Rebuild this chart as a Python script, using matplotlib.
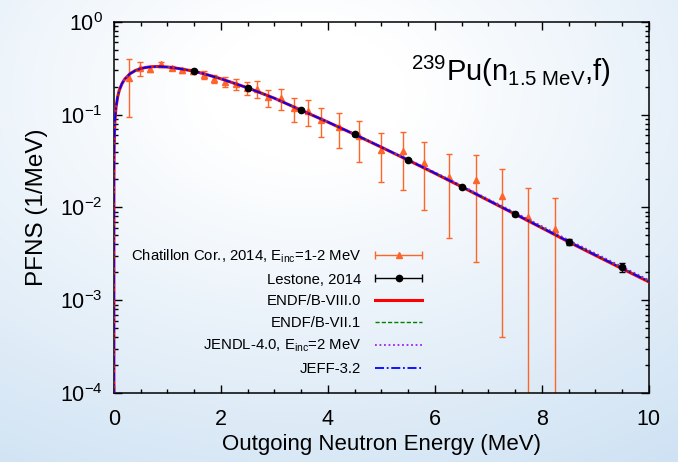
import numpy as np
import matplotlib
matplotlib.use('Agg')
import matplotlib.pyplot as plt
from matplotlib.lines import Line2D
from matplotlib.collections import LineCollection
from matplotlib.container import ErrorbarContainer
from matplotlib.legend_handler import HandlerErrorbar
from matplotlib.ticker import MultipleLocator, LogLocator, NullFormatter

plt.rcParams['font.family'] = ['Liberation Sans', 'DejaVu Sans']
plt.rcParams['mathtext.fontset'] = 'custom'
plt.rcParams['mathtext.rm'] = 'Liberation Sans'
plt.rcParams['mathtext.it'] = 'Liberation Sans:italic'
plt.rcParams['mathtext.default'] = 'regular'

# Chatillon corrected data, E_inc = 1-2 MeV
chat_e = [0.28, 0.48, 0.68, 0.88, 1.08, 1.28, 1.48, 1.68, 1.88, 2.08, 2.28, 2.48,
          2.68, 2.88, 3.12, 3.37, 3.62, 3.87, 4.20, 4.59, 4.99, 5.40, 5.79, 6.26,
          6.76, 7.26, 7.75, 8.25]
chat_y = [0.245, 0.3145, 0.309, 0.3465, 0.3165, 0.2995, 0.2925, 0.269, 0.2445,
          0.2265, 0.2125, 0.1935, 0.190, 0.1535, 0.150, 0.117, 0.109, 0.0879,
          0.0741, 0.0582, 0.0413, 0.0403, 0.0299, 0.0211, 0.0196, 0.0132,
          0.0078, 0.00584]
chat_err = [0.150, 0.0515, 0.023, 0.0175, 0.0155, 0.0185, 0.0205, 0.027, 0.0255,
            0.0275, 0.0295, 0.0315, 0.039, 0.0325, 0.038, 0.034, 0.034, 0.0312,
            0.0299, 0.0275, 0.0223, 0.0247, 0.0206, 0.0164, 0.0170, 0.0128,
            0.0083, 0.0069]

# Lestone 2014
les_e = [1.5, 2.5, 3.5, 4.5, 5.5, 6.5, 7.5, 8.5, 9.5]
les_y = [0.293, 0.194, 0.1115, 0.0611, 0.0323, 0.0167, 0.00847, 0.00426, 0.00226]
les_err = [0.006, 0.005, 0.003, 0.0017, 0.0009, 0.0005, 0.0003, 0.00029, 0.00026]

# evaluated spectra
eval_e = [1e-8, 1e-6, 1e-4, 0.001, 0.005, 0.01, 0.02, 0.04, 0.07, 0.1, 0.15, 0.2,
          0.3, 0.4, 0.5, 0.6, 0.7, 0.8, 0.9, 1.0, 1.2, 1.5, 1.75, 2.0, 2.5, 3.0,
          3.5, 4.0, 4.5, 5.0, 5.5, 6.0, 6.5, 7.0, 7.5, 8.0, 8.5, 9.0, 9.5, 10.0]
endf8 = [6e-5, 6e-4, 6e-3, 0.020, 0.045, 0.063, 0.088, 0.120, 0.155, 0.182, 0.215,
         0.240, 0.275, 0.298, 0.313, 0.322, 0.327, 0.329, 0.328, 0.325, 0.314,
         0.293, 0.268, 0.243, 0.194, 0.150, 0.1115, 0.0830, 0.0611, 0.0445,
         0.0323, 0.0233, 0.0167, 0.0119, 0.00847, 0.00602, 0.00426, 0.00305,
         0.00219, 0.00158]
endf71 = [6e-5, 6e-4, 6e-3, 0.020, 0.045, 0.063, 0.088, 0.120, 0.155, 0.182, 0.215,
          0.240, 0.275, 0.298, 0.313, 0.322, 0.327, 0.329, 0.328, 0.325, 0.314,
          0.293, 0.268, 0.243, 0.194, 0.150, 0.1117, 0.0832, 0.0613, 0.0447,
          0.0325, 0.0235, 0.0169, 0.0120, 0.00858, 0.00611, 0.00433, 0.00311,
          0.00224, 0.00161]
jendl = [6e-5, 6e-4, 6e-3, 0.020, 0.045, 0.063, 0.088, 0.120, 0.155, 0.182, 0.215,
         0.240, 0.275, 0.298, 0.313, 0.322, 0.327, 0.329, 0.328, 0.325, 0.314,
         0.293, 0.268, 0.243, 0.194, 0.150, 0.1120, 0.0836, 0.0617, 0.0451,
         0.0329, 0.0239, 0.0172, 0.0123, 0.00880, 0.00628, 0.00445, 0.00320,
         0.00230, 0.00165]
jeff = [6e-5, 6e-4, 6e-3, 0.020, 0.045, 0.063, 0.088, 0.120, 0.155, 0.182, 0.215,
        0.240, 0.275, 0.298, 0.313, 0.322, 0.327, 0.329, 0.328, 0.325, 0.314,
        0.293, 0.268, 0.243, 0.194, 0.150, 0.1115, 0.0831, 0.0612, 0.0446,
        0.0324, 0.0234, 0.0168, 0.0119, 0.00850, 0.00604, 0.00428, 0.00307,
        0.00221, 0.00159]

orange = '#ff6428'

fig = plt.figure(figsize=(6.78, 4.62), dpi=100)

# soft white-to-blue backdrop
bg = fig.add_axes([0, 0, 1, 1], zorder=-10)
gx, gy = np.meshgrid(np.linspace(0, 1, 340), np.linspace(1, 0, 232))
d = np.sqrt((gx - 0.45) ** 2 + (gy - 0.8) ** 2)
t = np.clip((d - 0.15) / 0.85, 0, 1)[..., None]
edge = np.array([205, 225, 243]) / 255.0
bg.imshow((1 - t) * 1.0 + t * edge, aspect='auto', extent=[0, 1, 0, 1],
          interpolation='bilinear')
bg.axis('off')

ax = fig.add_axes([0.168, 0.149, 0.789, 0.804])
ax.patch.set_alpha(0)

ax.plot(eval_e, endf8, color='#ff0000', lw=2.2, zorder=3)
ax.plot(eval_e, endf71, color='#008000', lw=1.0, ls=(0, (3, 1.5)), zorder=4)
ax.plot(eval_e, jendl, color='#a020f0', lw=1.3, ls=(0, (1, 1.5)), zorder=5)
ax.plot(eval_e, jeff, color='#0000ff', lw=1.3, ls=(0, (5, 1.5, 1, 1.5)), zorder=6)

ax.errorbar(chat_e, chat_y, yerr=chat_err, fmt='^', color=orange, ms=5,
            elinewidth=1, capsize=2.5, capthick=1, zorder=2)
ax.errorbar(les_e, les_y, yerr=les_err, fmt='o', color='black', ms=4.5,
            elinewidth=1, capsize=2.5, capthick=1, zorder=7)

ax.set_yscale('log')
ax.set_xlim(0, 10)
ax.set_ylim(1e-4, 1)
ax.xaxis.set_major_locator(MultipleLocator(2))
ax.xaxis.set_minor_locator(MultipleLocator(0.5))
ax.yaxis.set_major_locator(LogLocator(base=10, numticks=10))
ax.yaxis.set_minor_locator(LogLocator(base=10, subs=np.arange(2, 10), numticks=10))
ax.yaxis.set_minor_formatter(NullFormatter())
ax.tick_params(which='both', direction='in', top=True, right=True, width=1)
ax.tick_params(which='major', length=6, labelsize=15.5)
ax.tick_params(axis='x', which='major', pad=11.5)
ax.tick_params(axis='y', which='major', pad=8)
ax.tick_params(which='minor', length=3)
for s in ax.spines.values():
    s.set_linewidth(1.1)

ax.set_xlabel('Outgoing Neutron Energy (MeV)', fontsize=16, labelpad=3)
ax.set_ylabel('PFNS (1/MeV)', fontsize=17.5, labelpad=9)

ax.text(0.929, 0.84, r'$^{239}$Pu(n$_{1.5\ \mathrm{MeV}}$,f)', transform=ax.transAxes,
        ha='right', va='baseline', fontsize=21)


def xbar_proxy(color, marker, ms):
    mk = Line2D([], [], color=color, marker=marker, ms=ms, ls='none')
    cap = Line2D([], [], color=color, marker='|', ms=6, mew=1)
    bar = LineCollection([], colors=color, linewidths=1)
    return ErrorbarContainer((mk, (cap,), (bar,)), has_xerr=True, has_yerr=False)


h_chat = xbar_proxy(orange, '^', 5)
h_les = xbar_proxy('black', 'o', 4.5)
handles = [h_chat, h_les,
           Line2D([], [], color='#ff0000', lw=2.2),
           Line2D([], [], color='#008000', lw=1.0, ls=(0, (3, 1.5))),
           Line2D([], [], color='#a020f0', lw=1.3, ls=(0, (1, 1.5))),
           Line2D([], [], color='#0000ff', lw=1.3, ls=(0, (5, 1.5, 1, 1.5)))]
labels = [r'Chatillon Cor., 2014, E$_{\mathrm{inc}}$=1-2 MeV', 'Lestone, 2014',
          'ENDF/B-VIII.0', 'ENDF/B-VII.1', r'JENDL-4.0, E$_{\mathrm{inc}}$=2 MeV',
          'JEFF-3.2']
hm = {h_chat: HandlerErrorbar(xerr_size=1.58), h_les: HandlerErrorbar(xerr_size=1.58)}
ax.legend(handles, labels, handler_map=hm, loc='upper right',
          bbox_to_anchor=(0.576, 0.392), frameon=False, markerfirst=False,
          fontsize=10.7, handlelength=3.15, handletextpad=0.95, labelspacing=0.52,
          borderpad=0, borderaxespad=0)

fig.savefig('out.png', dpi=100)
